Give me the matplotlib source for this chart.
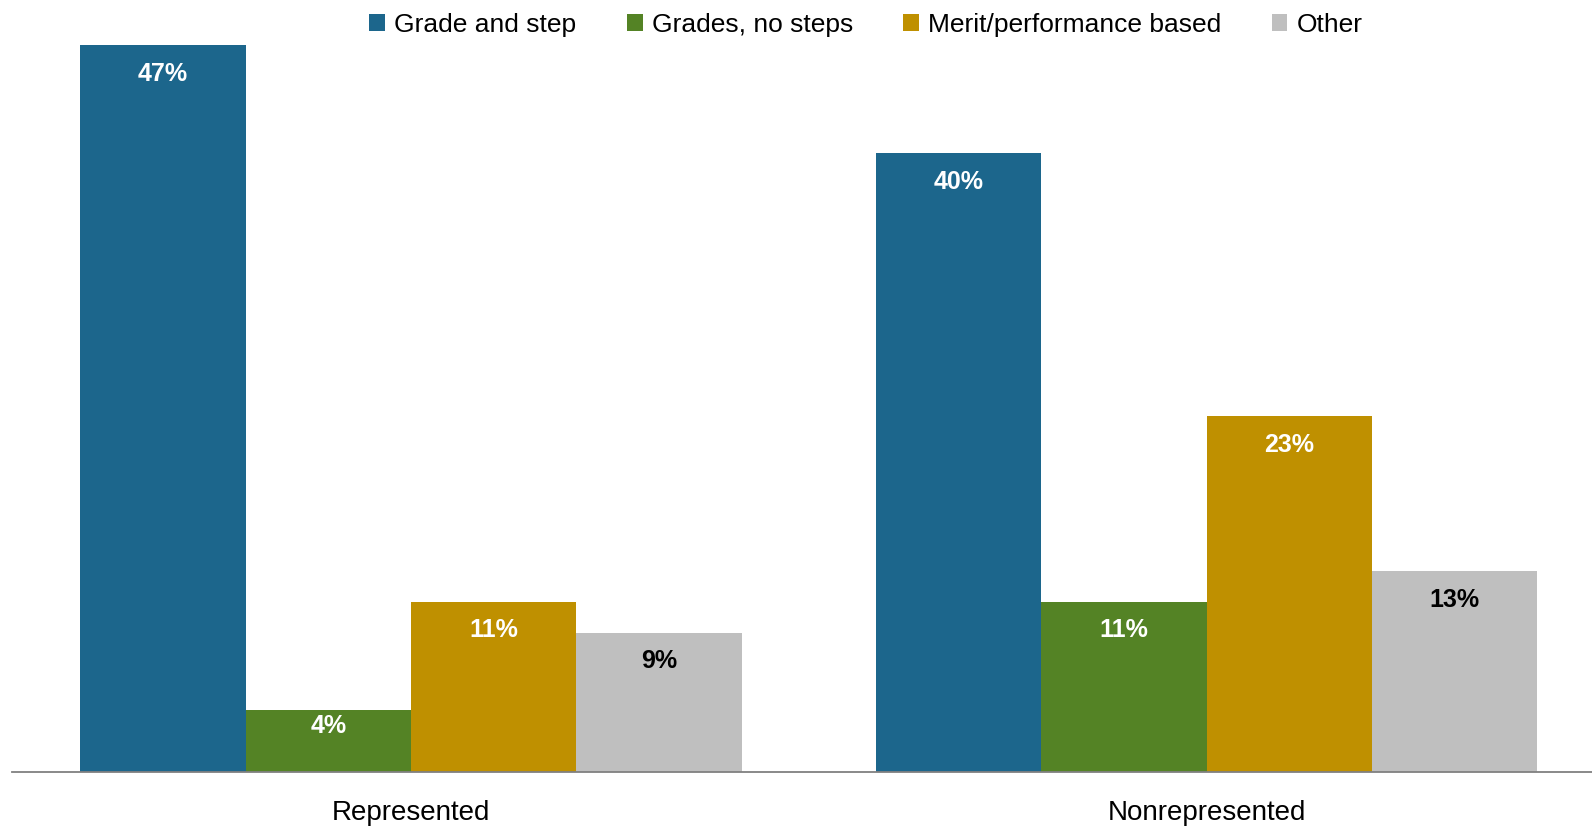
import matplotlib
matplotlib.use("Agg")
import matplotlib.pyplot as plt
import numpy as np

groups = ["Represented", "Nonrepresented"]
series = ["Grade and step", "Grades, no steps", "Merit/performance based", "Other"]
grade_step = [47, 40]
grades_no_steps = [4, 11]
merit = [11, 23]
other = [9, 13]

colors = ["#1C668C", "#548325", "#BF9000", "#BFBFBF"]
text_colors = ["white", "white", "white", "black"]

plt.rcParams['font.family'] = ['Liberation Sans Narrow', 'Liberation Sans', 'DejaVu Sans']

fig = plt.figure(figsize=(15.92, 8.30), dpi=100)
ax = fig.add_axes([12 / 1592, 58 / 830, 1 - 12 / 1592, (772 - 45) / 830])

x = np.arange(len(groups))
w = 0.208
values = [grade_step, grades_no_steps, merit, other]
for i, vals in enumerate(values):
    pos = x + (i - 1.5) * w
    bars = ax.bar(pos, vals, w, color=colors[i], label=series[i], linewidth=0)
    for b, v in zip(bars, vals):
        # short bars get their label pushed up so it still fits inside
        off = min(1.85, v * 0.26)
        ax.text(b.get_x() + b.get_width() / 2, v - off, f"{v}%", ha="center", va="center",
                color=text_colors[i], fontsize=18, fontweight="bold")

ax.set_xlim(-0.5016, 1.4846)
ax.set_ylim(0, 47)
ax.set_yticks([])
ax.set_xticks(x)
ax.set_xticklabels(groups, fontsize=20)
ax.tick_params(axis="x", length=0, pad=20)
for s in ["top", "right", "left"]:
    ax.spines[s].set_visible(False)
ax.spines["bottom"].set_color("#808080")
ax.spines["bottom"].set_linewidth(1.3)

fig.legend(loc="upper center", bbox_to_anchor=(866 / 1592, 1.013), ncol=4, frameon=False,
           fontsize=19, handlelength=0.6, handleheight=0.6, handletextpad=0.35, columnspacing=1.9)

fig.savefig("out.png", dpi=100)
